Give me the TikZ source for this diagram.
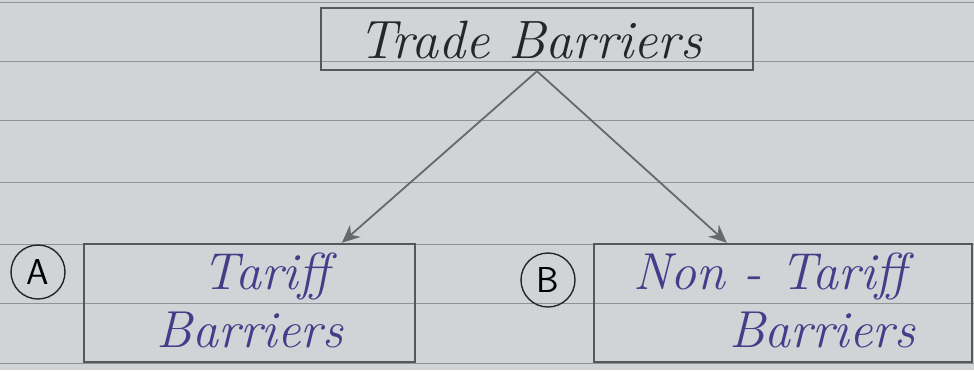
\documentclass[tikz,border=0pt]{standalone}
\usetikzlibrary{arrows.meta,calc}
\definecolor{paper}{HTML}{D0D4D7}
\definecolor{rulecol}{HTML}{8E9398}
\definecolor{pencil}{HTML}{55585B}
\definecolor{ink}{HTML}{463C8A}
\begin{document}
\begin{tikzpicture}[x=1pt,y=-1pt,
  box/.style={draw=pencil,line width=2.4pt,inner sep=0pt},
  toptext/.style={text=black!85,font=\fontsize{54}{58}\selectfont\itshape},
  inktext/.style={text=ink,font=\fontsize{52}{56}\selectfont\itshape},
  circlelbl/.style={draw=black!85,circle,line width=1.4pt,minimum size=54pt,inner sep=0pt,font=\fontsize{36}{38}\selectfont\sffamily},
  arr/.style={draw=pencil!90,line width=1.8pt,-{Stealth[length=18pt,width=16pt]}}]
\fill[paper] (0,0) rectangle (974,370);
\useasboundingbox (0,0) rectangle (974,370);
\foreach \y in {2,61,120,182,244,303,363}
  \draw[rulecol,line width=1pt] (0,\y) -- (974,\y);
% top box
\node[box,minimum width=432pt,minimum height=62pt] (top) at (537,39) {};
\node[toptext] (toplbl) at (530,40) {Trade Barriers};
% box A
\node[box,minimum width=331pt,minimum height=118pt] (ta) at (249.5,303) {};
\node[inktext] (ta1) at (266,276) {Tariff};
\node[inktext] (ta2) at (250,330) {Barriers};
\node[circlelbl] (ma) at (38,272) {A};
% box B
\node[box,minimum width=378pt,minimum height=118pt] (tb) at (783,303) {};
\node[inktext] (tb1) at (770,276) {Non - Tariff};
\node[inktext] (tb2) at (822,330) {Barriers};
\node[circlelbl] (mb) at (548,280) {B};
% arrows
\draw[arr] (top.south) -- ($(ta.north west)+(259,0)$);
\draw[arr] (top.south) -- ($(tb.north west)+(134,0)$);
\end{tikzpicture}
\end{document}
